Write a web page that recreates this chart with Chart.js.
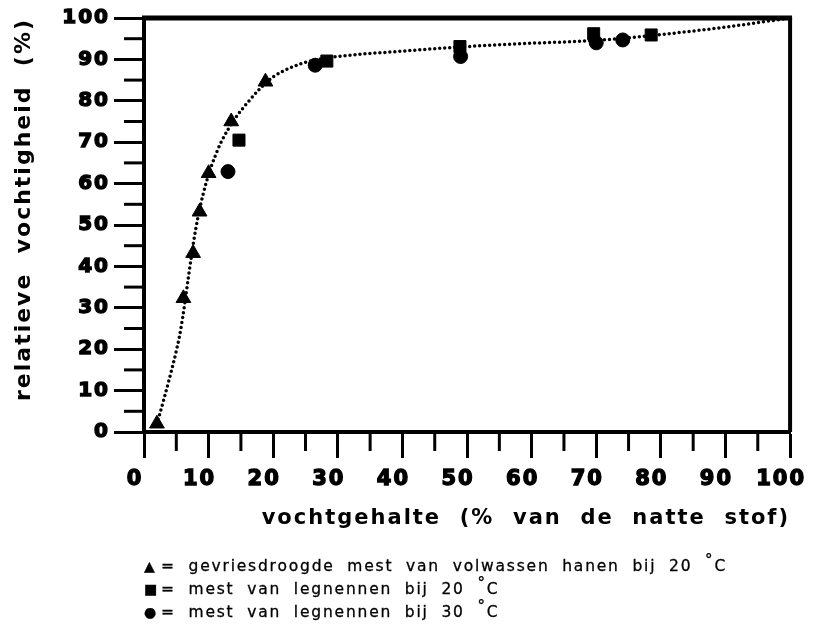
<!DOCTYPE html>
<html>
<head>
<meta charset="utf-8">
<script src="https://cdn.jsdelivr.net/npm/chart.js@4.4.1/dist/chart.umd.min.js"></script>
<style>
  body { margin: 0; background: #fff; }
  #wrap { position: relative; width: 824px; height: 635px; }
  #legend {
    position: absolute; left: 144px; top: 555px;
    font-family: "DejaVu Sans"; font-size: 15.5px; color: #000;
    letter-spacing: 1.8px; word-spacing: 6px; line-height: 23px; white-space: nowrap;
    -webkit-text-stroke: 0.3px #000;
  }
  #legend .sym { display: inline-block; width: 17px; font-size: 14px; }
  #legend .deg { font-size: 15px; position: relative; top: -6px; }
</style>
</head>
<body>
<div id="wrap">
  <canvas id="chart" width="824" height="635"></canvas>
  <div id="legend"></div>
</div>
<script>
const triX = [2, 6.1, 7.6, 8.6, 10, 13.5, 18.8];
const triY = [2, 32.3, 43.2, 53.2, 62.5, 75, 84.6];
const sq20X = [14.7, 28.3, 48.9, 69.6, 78.5];
const sq20Y = [70.5, 89.6, 93.1, 96.2, 95.9];
const circ30X = [13, 26.5, 49, 70, 74.1];
const circ30Y = [62.9, 88.6, 90.7, 94, 94.7];

// hand drawn dotted curve
const curveX = [2.2, 3, 4, 5, 5.5, 6, 6.5, 7, 7.6, 8.3, 9, 10, 11, 12, 14, 16, 18, 20, 23, 26, 30, 40, 50, 60, 70, 80, 90, 100];
const curveY = [3, 7.5, 13.3, 19.6, 23.2, 27.8, 33.2, 38.8, 45.2, 51.5, 56.5, 62.2, 66.6, 70.2, 75.5, 79.5, 83, 85.8, 88.2, 89.7, 90.7, 92, 93.1, 93.9, 94.6, 96, 97.8, 100];

const tickValues = [0, 10, 20, 30, 40, 50, 60, 70, 80, 90, 100];
const minorTicks = [5, 15, 25, 35, 45, 55, 65, 75, 85, 95];

const xTitle = 'vochtgehalte  (%  van  de  natte  stof)';
const yTitle = 'relatieve  vochtigheid  (%)';

const legendSymbols = ['▲', '■', '●'];
const legendTexts = [
  'gevriesdroogde mest van volwassen hanen bij 20',
  'mest van legnennen bij 20',
  'mest van legnennen bij 30'
];

const toPts = (xs, ys) => xs.map((x, i) => ({ x: x, y: ys[i] }));

// the original lettering is very widely spaced
const spacing = {
  id: 'spacing',
  beforeLayout(chart) { chart.ctx.letterSpacing = '2px'; },
  beforeDraw(chart) { chart.ctx.letterSpacing = '2px'; }
};

const frame = {
  id: 'frame',
  afterDraw(chart) {
    const { ctx, chartArea: a, scales: { x, y } } = chart;
    ctx.save();
    ctx.strokeStyle = '#000';
    ctx.lineWidth = 5;
    ctx.beginPath(); ctx.moveTo(a.left - 2, a.top); ctx.lineTo(a.right + 2, a.top); ctx.stroke();
    ctx.lineWidth = 4;
    ctx.beginPath(); ctx.moveTo(a.right, a.top); ctx.lineTo(a.right, a.bottom); ctx.stroke();
    ctx.lineWidth = 3;
    minorTicks.forEach(v => {
      const px = x.getPixelForValue(v);
      ctx.beginPath(); ctx.moveTo(px, a.bottom); ctx.lineTo(px, a.bottom + 19); ctx.stroke();
      const py = y.getPixelForValue(v);
      ctx.beginPath(); ctx.moveTo(a.left, py); ctx.lineTo(a.left - 20, py); ctx.stroke();
    });
    ctx.restore();
  }
};

Chart.defaults.font.family = 'DejaVu Sans';
Chart.defaults.color = '#000';

new Chart(document.getElementById('chart'), {
  type: 'scatter',
  data: {
    datasets: [
      {
        label: 'curve',
        data: toPts(curveX, curveY),
        showLine: true,
        pointRadius: 0,
        borderColor: '#000',
        borderWidth: 3.5,
        borderDash: [0, 5],
        borderCapStyle: 'round',
        cubicInterpolationMode: 'monotone',
        order: 10,
        clip: false
      },
      {
        label: 'gevriesdroogde mest van volwassen hanen bij 20 °C',
        data: toPts(triX, triY),
        pointStyle: 'triangle',
        pointRadius: 8.5,
        backgroundColor: '#000',
        borderColor: '#000',
        borderWidth: 1,
        clip: false
      },
      {
        label: 'mest van legnennen bij 20 °C',
        data: toPts(sq20X, sq20Y),
        pointStyle: 'rect',
        pointRadius: 8.5,
        backgroundColor: '#000',
        borderColor: '#000',
        borderWidth: 1,
        clip: false
      },
      {
        label: 'mest van legnennen bij 30 °C',
        data: toPts(circ30X, circ30Y),
        pointStyle: 'circle',
        pointRadius: 7,
        backgroundColor: '#000',
        borderColor: '#000',
        borderWidth: 1,
        clip: false
      }
    ]
  },
  options: {
    responsive: false,
    animation: false,
    layout: { padding: { left: 0, top: 18, right: 29, bottom: 103 } },
    plugins: { legend: { display: false }, tooltip: { enabled: false } },
    scales: {
      x: {
        type: 'linear', min: 0, max: 100,
        afterFit: s => { s.height = 100; },
        border: { display: true, width: 4, color: '#000' },
        grid: { drawOnChartArea: false, drawTicks: true, tickLength: 26, tickWidth: 3, tickColor: '#000' },
        ticks: {
          stepSize: 10, padding: 9, labelOffset: -9, maxRotation: 0, autoSkip: false,
          font: { size: 21, weight: 'bold' },
          textStrokeColor: '#000', textStrokeWidth: 1.4,
          callback: v => tickValues.includes(v) ? String(v) : ''
        },
        title: {
          display: true, text: xTitle, align: 'end',
          font: { size: 21, weight: 'bold' }, padding: { top: 0, bottom: 1 }
        }
      },
      y: {
        type: 'linear', min: 0, max: 100,
        afterFit: s => { s.width = 144; },
        border: { display: true, width: 4, color: '#000' },
        grid: { drawOnChartArea: false, drawTicks: true, tickLength: 30, tickWidth: 3, tickColor: '#000' },
        ticks: {
          stepSize: 10, padding: 4, autoSkip: false,
          font: { size: 20, weight: 'bold' },
          textStrokeColor: '#000', textStrokeWidth: 1.4,
          callback: v => tickValues.includes(v) ? String(v) : ''
        },
        title: {
          display: true, text: yTitle, align: 'end',
          font: { size: 22, weight: 'bold' }, padding: { top: 11, bottom: 0 }
        }
      }
    }
  },
  plugins: [spacing, frame]
});

// legend below the plot, as in the figure
document.getElementById('legend').innerHTML = legendTexts.map((t, i) =>
  `<div><span class="sym">${legendSymbols[i]}</span>= ${t} <span class="deg">°</span>C</div>`
).join('');
</script>
</body>
</html>
